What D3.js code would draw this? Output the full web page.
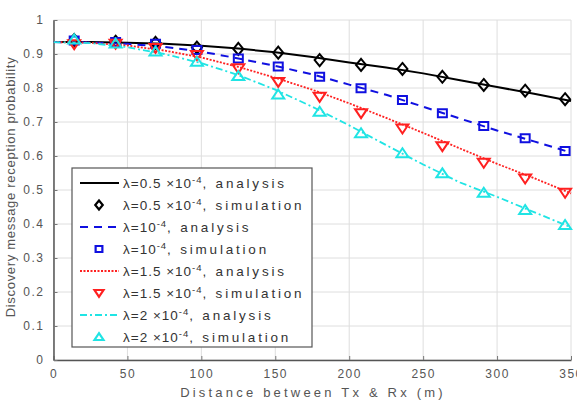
<!DOCTYPE html>
<html>
<head>
<meta charset="utf-8">
<script src="https://cdn.jsdelivr.net/npm/d3@7"></script>
<style>
  body { margin: 0; background: #fff; }
  text { font-family: "Liberation Sans", Arial, sans-serif; }
</style>
</head>
<body>
<div id="vis"></div>
<script>
// Data
const simX = [14, 42, 69, 97, 125, 152, 180, 208, 236, 263, 291, 319, 346];
const simBlack = [0.941, 0.936, 0.933, 0.919, 0.915, 0.904, 0.882, 0.868, 0.856, 0.833, 0.809, 0.792, 0.767];
const simBlue = [0.94, 0.935, 0.93, 0.912, 0.887, 0.863, 0.833, 0.799, 0.765, 0.726, 0.688, 0.652, 0.615];
const simRed = [0.929, 0.93, 0.918, 0.897, 0.858, 0.818, 0.774, 0.726, 0.681, 0.629, 0.58, 0.534, 0.492];
const simCyan = [0.943, 0.931, 0.907, 0.877, 0.835, 0.781, 0.73, 0.667, 0.608, 0.549, 0.492, 0.441, 0.397];

const anaX = [0, 25, 50, 75, 100, 125, 150, 175, 200, 225, 250, 275, 300, 325, 350];
const anaBlack = [0.935, 0.935, 0.933, 0.93, 0.924, 0.916, 0.905, 0.891, 0.875, 0.86, 0.843, 0.823, 0.803, 0.783, 0.762];
const anaBlue = [0.935, 0.934, 0.93, 0.921, 0.907, 0.887, 0.865, 0.84, 0.81, 0.78, 0.745, 0.71, 0.675, 0.643, 0.61];
const anaRed = [0.935, 0.933, 0.925, 0.91, 0.89, 0.862, 0.83, 0.795, 0.755, 0.712, 0.668, 0.622, 0.577, 0.535, 0.49];
const anaCyan = [0.935, 0.932, 0.92, 0.9, 0.873, 0.838, 0.795, 0.745, 0.69, 0.632, 0.575, 0.522, 0.48, 0.435, 0.39];

const xTicks = [0, 50, 100, 150, 200, 250, 300, 350];
const yTicks = [0, 0.1, 0.2, 0.3, 0.4, 0.5, 0.6, 0.7, 0.8, 0.9, 1];

const lambdas = ['0.5 \u00d710', '10', '1.5 \u00d710', '2 \u00d710'];

let width = 577, height = 414;
let margin = { top: 20, bottom: 54, left: 53.5, right: 6 };

let svg = d3.select('#vis')
  .append('svg')
  .attr('width', width)
  .attr('height', height);

let xScale = d3.scaleLinear()
  .domain([0, 350])
  .range([margin.left, width - margin.right]);

let yScale = d3.scaleLinear()
  .domain([0, 1])
  .range([height - margin.bottom, margin.top]);

// grid
let grid = svg.append('g');
grid.selectAll('line.gx')
  .data(xTicks)
  .enter().append('line')
    .attr('x1', d => xScale(d)).attr('x2', d => xScale(d))
    .attr('y1', yScale(0)).attr('y2', yScale(1))
    .attr('stroke', '#dedede');
grid.selectAll('line.gy')
  .data(yTicks)
  .enter().append('line')
    .attr('x1', xScale(0)).attr('x2', xScale(350))
    .attr('y1', d => yScale(d)).attr('y2', d => yScale(d))
    .attr('stroke', '#dedede');

// axes
let xAxis = svg.append('g')
  .attr('transform', `translate(0,${yScale(0)})`)
  .call(d3.axisBottom(xScale).tickValues(xTicks).tickSizeInner(-4).tickSizeOuter(0).tickPadding(9));
let yAxis = svg.append('g')
  .attr('transform', `translate(${xScale(0)},0)`)
  .call(d3.axisLeft(yScale).tickValues(yTicks).tickSizeInner(-4).tickSizeOuter(0).tickPadding(9)
    .tickFormat(d => d === 0 || d === 1 ? d3.format('d')(d) : d3.format('.1f')(d)));

[xAxis, yAxis].forEach(a => {
  a.select('.domain').attr('stroke', '#555').attr('stroke-width', 1.5);
  a.selectAll('.tick line').attr('stroke', '#777');
  a.selectAll('text')
    .attr('fill', '#555')
    .style('font-size', '12px')
    .style('letter-spacing', '1.5px');
});

// axis labels
svg.append('text')
  .attr('x', 313)
  .attr('y', 397)
  .attr('text-anchor', 'middle')
  .attr('fill', '#555')
  .style('font-size', '13px')
  .style('letter-spacing', '3.2px')
  .text('Distance between Tx & Rx (m)');

svg.append('text')
  .attr('transform', 'translate(15,187) rotate(-90)')
  .attr('text-anchor', 'middle')
  .attr('fill', '#555')
  .style('font-size', '13px')
  .style('letter-spacing', '0.7px')
  .text('Discovery message reception probability');

// series
let series = [
  { ana: anaBlack, sim: simBlack, color: '#000', dash: null, lw: 2, shape: 'diamond' },
  { ana: anaBlue, sim: simBlue, color: '#1010e0', dash: '8,6', lw: 2, shape: 'square' },
  { ana: anaRed, sim: simRed, color: '#ff2020', dash: '2,1.5', lw: 1.8, shape: 'down' },
  { ana: anaCyan, sim: simCyan, color: '#20e4e4', dash: '7,3,2,3', lw: 1.8, shape: 'up' }
];

let line = d3.line()
  .x(d => xScale(d[0]))
  .y(d => yScale(d[1]));

function markerPath(shape, k) {
  k = k || 1;
  let p;
  if (shape === 'diamond') p = [[0, -6], [5, 0], [0, 6], [-5, 0]];
  else if (shape === 'square') p = [[-4.5, -4], [4.5, -4], [4.5, 4], [-4.5, 4]];
  else if (shape === 'down') p = [[-6, -4], [6, -4], [0, 5]];
  else p = [[-6, 4], [6, 4], [0, -5]];
  return 'M' + p.map(q => (q[0] * k) + ',' + (q[1] * k)).join('L') + 'Z';
}

series.forEach(s => {
  svg.append('path')
    .datum(anaX.map((x, i) => [x, s.ana[i]]))
    .attr('d', line)
    .attr('fill', 'none')
    .attr('stroke', s.color)
    .attr('stroke-width', s.lw)
    .attr('stroke-dasharray', s.dash);
});

series.forEach(s => {
  svg.append('g').selectAll('path')
    .data(simX.map((x, i) => [x, s.sim[i]]))
    .enter().append('path')
      .attr('transform', d => `translate(${xScale(d[0])},${yScale(d[1])})`)
      .attr('d', markerPath(s.shape))
      .attr('fill', 'none')
      .attr('stroke', s.color)
      .attr('stroke-width', 2);
});

// legend
let legend = svg.append('g');
legend.append('rect')
  .attr('x', 72).attr('y', 168)
  .attr('width', 240).attr('height', 179)
  .attr('fill', '#fff')
  .attr('stroke', '#555')
  .attr('stroke-width', 1.2);

let rows = [];
series.forEach((s, i) => {
  rows.push({ s: s, kind: 'line', lam: lambdas[i], word: 'analysis' });
  rows.push({ s: s, kind: 'marker', lam: lambdas[i], word: 'simulation' });
});

rows.forEach((r, i) => {
  let y = 183 + i * 22;
  if (r.kind === 'line') {
    legend.append('line')
      .attr('x1', 80).attr('x2', 119)
      .attr('y1', y).attr('y2', y)
      .attr('stroke', r.s.color)
      .attr('stroke-width', r.s.lw)
      .attr('stroke-dasharray', r.s.dash);
  } else {
    legend.append('path')
      .attr('transform', `translate(99,${y})`)
      .attr('d', markerPath(r.s.shape, 0.75))
      .attr('fill', 'none')
      .attr('stroke', r.s.color)
      .attr('stroke-width', 2.2);
  }
  let t = legend.append('text')
    .attr('x', 123)
    .attr('y', y + 5)
    .attr('fill', '#333')
    .style('font-size', '13.5px')
    .style('letter-spacing', '1px');
  t.append('tspan').text('\u03bb=' + r.lam);
  t.append('tspan').attr('dy', -5.5).style('font-size', '9.5px').text('-4');
  t.append('tspan').attr('dy', 5.5).style('letter-spacing', '2.8px').text(', ' + r.word);
});
</script>
</body>
</html>
